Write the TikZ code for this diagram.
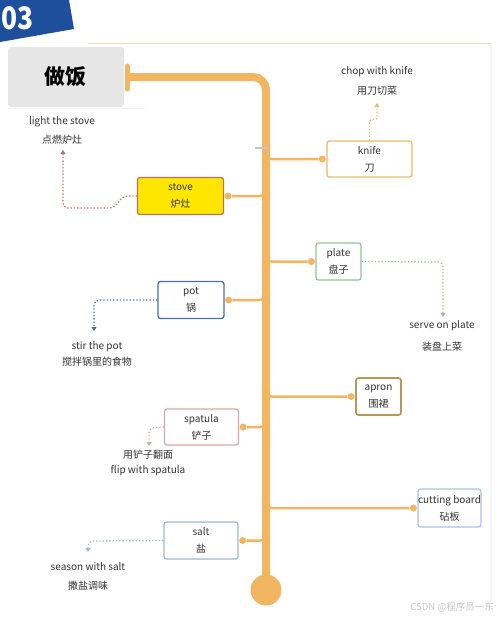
\documentclass[tikz,border=0pt]{standalone}
\usepackage{fontspec}
\setmainfont{Noto Sans CJK SC}
\usetikzlibrary{arrows.meta}
\definecolor{orng}{HTML}{F2B561}
\definecolor{txt}{HTML}{333333}
\definecolor{boxgray}{HTML}{E6E6E6}
\definecolor{bannerblue}{HTML}{1E4F9C}
\definecolor{topline}{HTML}{E8DCC0}
\definecolor{cknife}{HTML}{E9BA6C}
\definecolor{cstove}{HTML}{C0705A}
\definecolor{cyellow}{HTML}{FFE600}
\definecolor{cplate}{HTML}{95C495}
\definecolor{cpot}{HTML}{4A6FA5}
\definecolor{capron}{HTML}{B59A55}
\definecolor{cspat}{HTML}{DDA5A8}
\definecolor{ccut}{HTML}{A9C4DC}
\definecolor{csalt}{HTML}{9FB8CF}
\tikzset{
  box/.style={rectangle, rounded corners=2.5pt, line width=1.3pt, align=center, inner sep=0pt,
    font=\fontsize{10}{17}\selectfont, text=txt},
  lbl/.style={font=\fontsize{10}{12}\selectfont, text=txt, inner sep=0pt},
  arr/.style={dotted, line width=1.3pt, rounded corners=5pt, -{Triangle[width=5pt,length=4pt]}},
  branch/.style={draw=orng, line width=2.5pt, rounded corners=6pt},
  bdot/.style={circle, fill=orng, minimum size=7pt, inner sep=0pt},
}
\begin{document}
\begin{tikzpicture}[x=1pt,y=-1pt]
\useasboundingbox (0,0) rectangle (496,619);
\fill[white] (0,0) rectangle (496,619);
% banner
\fill[bannerblue] (0,0) -- (69,0) -- (74,29) -- (0,42) -- cycle;
\node[text=white, font=\fontsize{31}{31}\selectfont\bfseries, anchor=base west, xscale=0.85, inner sep=0pt] (num) at (1.5,29.5) {03};
% top line and faint borders
\draw[topline, line width=1pt] (88,43.5) -- (491,43.5);
\draw[gray!8, line width=1.5pt] (491,44) -- (491,603);
\draw[gray!12, line width=1pt] (8,108.5) -- (145,108.5);
% title box
\node[fill=boxgray, rounded corners=3pt, minimum width=116pt, minimum height=60pt, inner sep=0pt,
  font=\fontsize{21}{21}\selectfont\bfseries] (title) at (66,77) {做饭};

% boxes
\node[box, draw=cknife, minimum width=85pt, minimum height=36pt] (knife) at (369.5,159) {knife\\刀};
\node[box, draw=cstove, fill=cyellow, minimum width=86pt, minimum height=37pt] (stove) at (180.5,196) {stove\\炉灶};
\node[box, draw=cplate, minimum width=45pt, minimum height=37pt] (plate) at (338.5,261.5) {plate\\盘子};
\node[box, draw=cpot, minimum width=66pt, minimum height=37pt] (pot) at (191,300) {pot\\锅};
\node[box, draw=capron, line width=1.7pt, minimum width=45pt, minimum height=37pt] (apron) at (378.5,396.5) {apron\\围裙};
\node[box, draw=cspat, minimum width=74pt, minimum height=36pt] (spatula) at (201.5,427) {spatula\\铲子};
\node[box, draw=ccut, minimum width=59pt, minimum height=38pt] (cutting) at (449.5,508) {cutting board\\砧板};
\node[box, draw=csalt, minimum width=74pt, minimum height=37pt] (salt) at (201,540.5) {salt\\盐};

% dots
\node[bdot] (dk) at ([xshift=-4pt]knife.west) {};
\node[bdot] (ds) at ([xshift=4pt]stove.east) {};
\node[bdot] (dpl) at ([xshift=-4pt]plate.west) {};
\node[bdot] (dpo) at ([xshift=4pt]pot.east) {};
\node[bdot] (da) at ([xshift=-4pt]apron.west) {};
\node[bdot] (dsp) at ([xshift=4pt]spatula.east) {};
\node[bdot] (dc) at ([xshift=-4pt]cutting.west) {};
\node[bdot] (dsa) at ([xshift=4pt]salt.east) {};

% branches
\draw[branch] (266,148) |- (dk);
\draw[branch] (266,186) |- (ds);
\draw[branch] (266,250) |- (dpl);
\draw[branch] (266,290) |- (dpo);
\draw[branch] (266,385) |- (da);
\draw[branch] (266,417) |- (dsp);
\draw[branch] (266,496) |- (dc);
\draw[branch] (266,530) |- (dsa);

% main spine
\draw[orng, line width=8pt, rounded corners=13pt] (127,77) -- (266,77) -- (266,590);
\draw[orng, line width=5pt, line cap=round] (127,66) -- (127,89);
\node[circle, fill=orng, minimum size=31pt, inner sep=0pt] (endc) at (266,590) {};
\draw[gray!45, line width=2pt] (255,148) -- (268,148);

% dotted arrows
\coordinate (tk) at (377,103);
\draw[arr, draw=cknife] (knife.north) -- (369.5,126) .. controls (369.5,118) and (377,121) .. (377,113) -- (tk);
\coordinate (ts) at (63,150);
\draw[arr, draw=cstove] (stove.west) -- (123,196) -- (114,208) -- (63,208) -- (ts);
\coordinate (tp) at (443,317);
\draw[arr, draw=cplate] (plate.east) -- (443,262) -- (tp);
\coordinate (tpo) at (94,331);
\draw[arr, draw=cpot] (pot.west) -- (94,300) -- (tpo);
\coordinate (tsp) at (149,446);
\draw[arr, draw=cspat] (spatula.west) -- (149,428) -- (tsp);
\coordinate (tsa) at (88,552);
\draw[arr, draw=csalt] (salt.west) -- (88,541) -- (tsa);

% labels
\node[lbl] (l1a) at (377,72) {chop with knife};
\node[lbl] (l1b) at (377,91) {用刀切菜};
\node[lbl] (l2a) at (62,122) {light the stove};
\node[lbl] (l2b) at (62,140) {点燃炉灶};
\node[lbl] (l3a) at (442,326) {serve on plate};
\node[lbl] (l3b) at (442,347) {装盘上菜};
\node[lbl] (l4a) at (97,347) {stir the pot};
\node[lbl] (l4b) at (97,362) {搅拌锅里的食物};
\node[lbl] (l5a) at (148,455) {用铲子翻面};
\node[lbl] (l5b) at (148,471) {flip with spatula};
\node[lbl] (l6a) at (88,567) {season with salt};
\node[lbl] (l6b) at (88,586) {撒盐调味};

\node[anchor=east, text=gray!45, font=\fontsize{9.5}{10}\selectfont, inner sep=0pt] (wm) at (494,607) {CSDN @程序员一东};
\end{tikzpicture}
\end{document}
